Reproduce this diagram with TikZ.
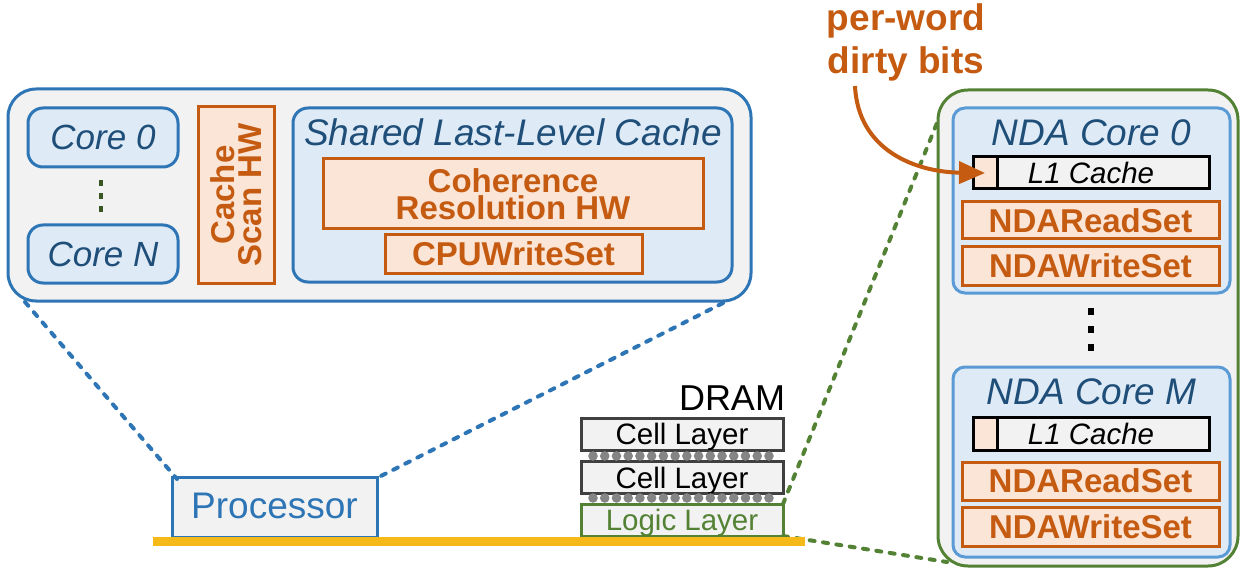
\documentclass[tikz,border=0pt]{standalone}
\usepackage{fontspec}
\setmainfont{Liberation Sans}
\usetikzlibrary{arrows.meta}

\definecolor{cblue}{HTML}{2E75B6}
\definecolor{cdblue}{HTML}{1F4E79}
\definecolor{clblue}{HTML}{DEEBF7}
\definecolor{cgray}{HTML}{F2F2F2}
\definecolor{cpeach}{HTML}{FBE5D6}
\definecolor{corange}{HTML}{C55A11}
\definecolor{cgreen}{HTML}{548235}
\definecolor{cdgreen}{HTML}{385723}
\definecolor{cmblue}{HTML}{5B9BD5}
\definecolor{cbus}{HTML}{F5B91A}
\definecolor{cdark}{HTML}{404040}
\definecolor{cball}{HTML}{858585}

\newcommand\fsz[2]{\fontsize{#1}{#2}\selectfont}

\tikzset{
  every node/.style={inner sep=0pt, outer sep=0pt},
  cpugroup/.style={draw=cblue, fill=cgray, line width=3pt, rounded corners=28pt},
  ndagroup/.style={draw=cgreen, fill=cgray, line width=3pt, rounded corners=30pt},
  corebox/.style={draw=cblue, fill=clblue, line width=3pt, rounded corners=15pt,
    text=cdblue, font=\fsz{35}{35}\itshape},
  llcbox/.style={draw=cblue, fill=clblue, line width=3pt, rounded corners=15pt},
  ndacore/.style={draw=cmblue, fill=clblue, line width=3pt, rounded corners=12pt},
  title/.style={text=cdblue, font=\fsz{37}{37}\itshape},
  hwbox/.style={draw=corange, fill=cpeach, line width=3pt, text=corange,
    font=\fsz{33}{27}\bfseries, align=center},
  l1box/.style={draw=black, fill=cgray, line width=3pt, minimum width=236pt,
    minimum height=32pt, font=\fsz{29.5}{29.5}\itshape},
  bitcell/.style={draw=black, fill=cpeach, line width=3pt, minimum width=24pt,
    minimum height=32pt},
  setbox/.style={hwbox, minimum width=257pt, minimum height=37pt},
  layer/.style={draw=cdark, fill=cgray, line width=3pt, minimum width=202pt,
    minimum height=32pt, font=\fsz{29.5}{29.5}, text depth=0pt},
  logiclayer/.style={layer, draw=cgreen, text=cgreen},
  ball/.style={fill=cball},
  zoomblue/.style={draw=cblue, line width=4pt, line cap=round, dash pattern=on 5pt off 8.5pt},
  zoomgreen/.style={draw=cgreen, line width=4pt, line cap=round, dash pattern=on 5pt off 8.5pt},
  note/.style={text=corange, font=\fsz{37}{37}\bfseries},
  pointer/.style={draw=corange, line width=4pt, -{Triangle[length=26pt, width=22pt]}},
}

\begin{document}
\begin{tikzpicture}[x=1pt, y=-1pt]
  \useasboundingbox (0,0) rectangle (1241,569);

  % ---------- host processor and DRAM stack ----------
  \node[draw=cblue, fill=cgray, line width=3pt, minimum width=205pt, minimum height=60pt,
        text=cblue, font=\fsz{37}{37}] (proc) at (274.5,507) {\raisebox{1.5pt}{Processor}};

  \node[anchor=east, font=\fsz{36}{36}] (dram) at (785,398.5) {DRAM};
  \node[layer] (cell1) at (682,434) {Cell Layer};
  \node[layer] (cell2) at (682,477.5) {Cell Layer};
  \node[logiclayer] (logic) at (682,520) {Logic Layer};
  \foreach \i in {0,...,15} {
    \fill[ball] (593+\i*11.73,456) circle (4.8);
    \fill[ball] (593+\i*11.73,498) circle (4.8);
  }

  % ---------- zoom connectors ----------
  \coordinate (cpuBL) at (25,302);
  \coordinate (cpuBR) at (723,303);
  \coordinate (ndaTL) at (937,123);
  \coordinate (ndaBL) at (947,562);
  \draw[zoomblue] (cpuBL) -- ([xshift=5pt,yshift=-2pt]proc.north west);
  \draw[zoomblue] (cpuBR) -- ([yshift=-1pt]proc.north east);
  \draw[zoomgreen] (logic.north east) -- (ndaTL);
  \draw[zoomgreen] (logic.south east) -- (ndaBL);

  % memory bus
  \draw[cbus, line width=8.5pt] (153,541.5) -- (805,541.5);

  % ---------- host side detail ----------
  \node[cpugroup, minimum width=743pt, minimum height=212pt] (cpu) at (379.5,195) {};
  \node[corebox, minimum width=150pt, minimum height=59pt] (core0) at (103,137.5) {Core 0};
  \node[corebox, minimum width=150pt, minimum height=58pt] (coreN) at (103,254) {Core N};
  \foreach \y in {183,196,209} \fill[cdgreen] (99,\y-3) rectangle (103,\y+3);

  % rotated node: width runs along the text, i.e. vertically
  \node[hwbox, minimum width=176pt, minimum height=76pt, rotate=90] (scan) at (236,195) {Cache\\Scan HW};

  \node[llcbox, minimum width=439pt, minimum height=174pt] (llc) at (512.5,195) {};
  \node[title] (llct) at (513,132.5) {Shared Last-Level Cache};
  \node[hwbox, minimum width=380pt, minimum height=70pt] (coh) at (513,194) {Coherence\\Resolution HW};
  \node[setbox, minimum width=257pt, minimum height=38pt] (cpuws) at (513.5,254) {CPUWriteSet};

  % ---------- near-data accelerator side detail ----------
  \node[ndagroup, minimum width=300pt, minimum height=476pt] (nda) at (1088,328) {};

  \node[ndacore, minimum width=277pt, minimum height=185pt] (ndac0) at (1091.5,200.5) {};
  \node[title] (t0) at (1091.5,133) {NDA Core 0};
  \node[l1box] (l1a) at (1091,173) {L1 Cache};
  \node[bitcell, anchor=north west] (bit0) at (l1a.north west) {};
  \node[setbox] (rs0) at (1090.5,220.5) {NDAReadSet};
  \node[setbox, minimum height=38pt] (ws0) at (1090.5,266) {NDAWriteSet};

  \foreach \y in {311,329,347} \fill[black] (1088,\y-3.5) rectangle (1094,\y+3.5);

  \node[ndacore, minimum width=277pt, minimum height=190pt] (ndacM) at (1091.5,462) {};
  \node[title] (tM) at (1091.5,392) {NDA Core M};
  \node[l1box, minimum height=33pt] (l1m) at (1091,433.5) {L1 Cache};
  \node[bitcell, anchor=north west, minimum height=33pt] (bitM) at (l1m.north west) {};
  \node[setbox, minimum height=38pt] (rsM) at (1090.5,481) {NDAReadSet};
  \node[setbox, minimum height=39pt] (wsM) at (1090.5,526.5) {NDAWriteSet};

  % ---------- annotation ----------
  \node[note, anchor=base] (pw1) at (906,31) {per-word};
  \node[note, anchor=base] (pw2) at (906,74) {dirty bits};
  \coordinate (pwfoot) at (855,86);
  \draw[pointer] (pwfoot) .. controls (858,150) and (915,172) .. (bit0.center);
\end{tikzpicture}
\end{document}
